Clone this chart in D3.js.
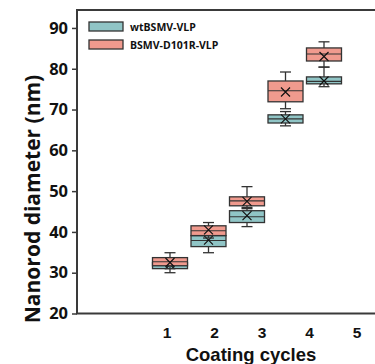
<!DOCTYPE html>
<html>
<head>
<meta charset="utf-8">
<script src="https://cdn.jsdelivr.net/npm/d3@7"></script>
<style>
  html, body { margin: 0; padding: 0; background: #fff; }
  svg { display: block; }
</style>
</head>
<body>
<div id="chart"></div>
<script>
// ---- data ----
const cycles = [1, 2, 3, 4, 5];
const tickLabels = ['1', '2', '3', '4', '5'];
const yTicks = [20, 30, 40, 50, 60, 70, 80, 90];

// wtBSMV-VLP (teal)
const wtMin    = [30.0, 34.9, 41.3, 66.0, 75.6];
const wtQ1     = [31.0, 36.4, 42.3, 66.7, 76.3];
const wtMedian = [31.8, 37.9, 43.7, 67.7, 76.9];
const wtQ3     = [32.5, 39.1, 45.2, 68.7, 78.0];
const wtMax    = [33.5, 40.0, 46.0, 69.5, 80.4];
const wtMean   = [32.0, 38.0, 44.0, 67.7, 77.0];

// BSMV-D101R-VLP (red)
const mutMin    = [31.0, 38.5, 45.7, 70.2, 80.4];
const mutQ1     = [31.7, 39.1, 46.4, 71.9, 81.9];
const mutMedian = [32.7, 40.3, 47.6, 74.6, 83.6];
const mutQ3     = [33.7, 41.5, 48.6, 77.0, 85.1];
const mutMax    = [34.9, 42.3, 51.1, 79.2, 86.6];
const mutMean   = [32.5, 40.5, 47.5, 74.3, 83.0];

const series = [
  { name: 'wtBSMV-VLP',     fill: '#90c5c6', min: wtMin,  q1: wtQ1,  med: wtMedian,  q3: wtQ3,  max: wtMax,  mean: wtMean },
  { name: 'BSMV-D101R-VLP', fill: '#f09a8e', min: mutMin, q1: mutQ1, med: mutMedian, q3: mutQ3, max: mutMax, mean: mutMean }
];

// ---- layout ----
const W = 375, H = 364;
const mLeft = 77, mTop = 10, mBottom = 313.5, mRight = 380;
const FONT = '"Open Sans", "DejaVu Sans", sans-serif';
const AFONT = '"Liberation Sans", Arial, sans-serif';

const svg = d3.select('#chart').append('svg')
  .attr('width', W).attr('height', H);

const y = d3.scaleLinear().domain([20, 94.4]).range([mBottom, mTop]);
// boxes sit on an even grid, the tick labels on a wider one (as in the figure)
const xBox  = d3.scaleLinear().domain([1, 5]).range([170, 324]);
const xTick = d3.scaleLinear().domain([1, 5]).range([167, 357]);

const boxW = 35, capW = 11, crossR = 4.5;
const stroke = '#333';

// frame
svg.append('path')
  .attr('d', `M${mRight},${mTop}H${mLeft}V${mBottom}H${mRight}`)
  .attr('fill', 'none').attr('stroke', '#3a3a3a').attr('stroke-width', 2);

// y axis
const yAxis = svg.append('g').attr('transform', `translate(${mLeft},0)`)
  .call(d3.axisLeft(y).tickValues(yTicks).tickSize(5).tickSizeOuter(0).tickPadding(4));
yAxis.select('.domain').remove();
yAxis.selectAll('line').attr('stroke', '#3a3a3a').attr('stroke-width', 1.5);
yAxis.selectAll('text')
  .attr('font-family', FONT).attr('font-weight', 700).attr('font-size', 16.5)
  .attr('fill', '#111');

// x tick labels
svg.append('g').selectAll('text')
  .data(cycles)
  .join('text')
  .attr('x', d => xTick(d))
  .attr('y', 338)
  .attr('text-anchor', 'middle')
  .attr('font-family', AFONT).attr('font-weight', 700).attr('font-size', 15.5)
  .attr('fill', '#111')
  .text((d, i) => tickLabels[i]);

// axis titles
svg.append('text')
  .attr('x', 251).attr('y', 361)
  .attr('text-anchor', 'middle')
  .attr('font-family', AFONT).attr('font-weight', 700).attr('font-size', 18.5)
  .attr('fill', '#111')
  .text('Coating cycles');

svg.append('text')
  .attr('transform', `translate(40,199) rotate(-90)`)
  .attr('text-anchor', 'middle')
  .attr('font-family', FONT).attr('font-weight', 700).attr('font-size', 21)
  .attr('fill', '#111')
  .text('Nanorod diameter (nm)');

// boxes
series.forEach(s => {
  const g = svg.append('g');
  const rows = cycles.map((c, i) => ({
    c, min: s.min[i], q1: s.q1[i], med: s.med[i], q3: s.q3[i], max: s.max[i], mean: s.mean[i]
  }));
  const grp = g.selectAll('g').data(rows).join('g')
    .attr('transform', d => `translate(${xBox(d.c)},0)`);

  // whiskers
  grp.append('line')
    .attr('x1', 0).attr('x2', 0)
    .attr('y1', d => y(d.max)).attr('y2', d => y(d.min))
    .attr('stroke', stroke).attr('stroke-width', 1.3);
  grp.append('line')
    .attr('x1', -capW / 2).attr('x2', capW / 2)
    .attr('y1', d => y(d.max)).attr('y2', d => y(d.max))
    .attr('stroke', stroke).attr('stroke-width', 1.3);
  grp.append('line')
    .attr('x1', -capW / 2).attr('x2', capW / 2)
    .attr('y1', d => y(d.min)).attr('y2', d => y(d.min))
    .attr('stroke', stroke).attr('stroke-width', 1.3);

  // box
  grp.append('rect')
    .attr('x', -boxW / 2).attr('width', boxW)
    .attr('y', d => y(d.q3)).attr('height', d => y(d.q1) - y(d.q3))
    .attr('fill', s.fill).attr('stroke', stroke).attr('stroke-width', 1.3);

  // median
  grp.append('line')
    .attr('x1', -boxW / 2).attr('x2', boxW / 2)
    .attr('y1', d => y(d.med)).attr('y2', d => y(d.med))
    .attr('stroke', stroke).attr('stroke-width', 1.1);

  // mean cross
  grp.append('path')
    .attr('d', d => {
      const m = y(d.mean);
      return `M${-crossR},${m - crossR}L${crossR},${m + crossR}M${crossR},${m - crossR}L${-crossR},${m + crossR}`;
    })
    .attr('stroke', '#111').attr('stroke-width', 1.2).attr('fill', 'none');
});

// legend
const legend = svg.append('g');
series.forEach((s, i) => {
  const ly = 22 + i * 18;
  legend.append('rect')
    .attr('x', 89).attr('y', ly).attr('width', 34).attr('height', 9)
    .attr('fill', s.fill).attr('stroke', stroke).attr('stroke-width', 1.3);
  legend.append('text')
    .attr('x', 130).attr('y', ly + 8.5)
    .attr('font-family', FONT).attr('font-weight', 700).attr('font-size', 10.5)
    .attr('fill', '#111')
    .text(s.name);
});
</script>
</body>
</html>
